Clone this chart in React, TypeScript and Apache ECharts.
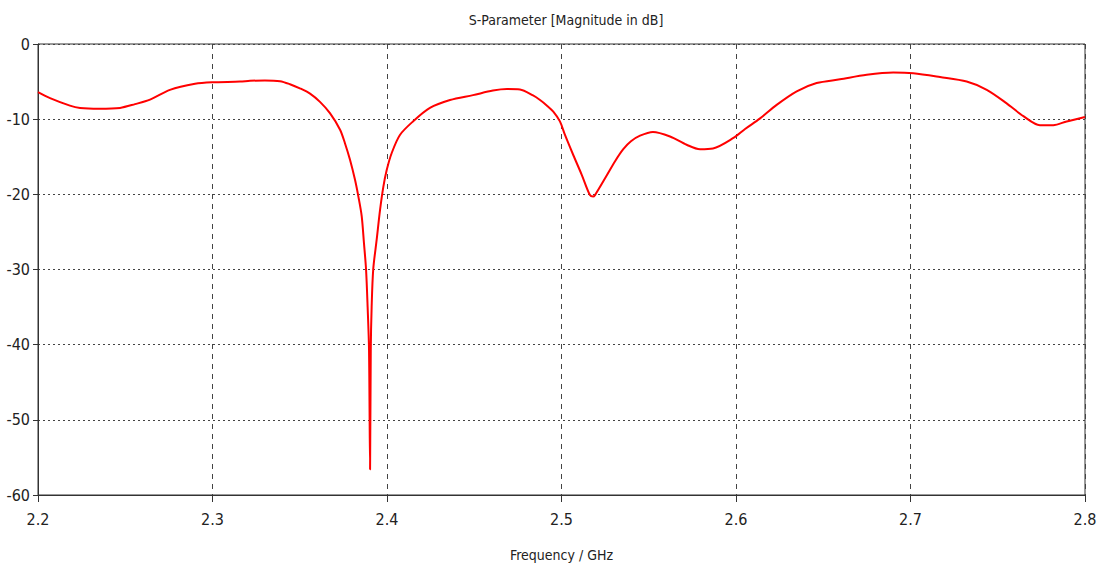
import React, { useEffect, useRef } from "react";
import * as echarts from "echarts";

const titleText = "S-Parameter [Magnitude in dB]";
const xAxisName = "Frequency / GHz";

const freqGHz: number[] = [
  2.2, 2.2069, 2.2183, 2.2241, 2.235, 2.247, 2.2556, 2.2642, 2.2756, 2.29,
  2.2997, 2.3158, 2.3215, 2.33, 2.3387, 2.3444, 2.3501, 2.3559, 2.3616, 2.3673,
  2.3731, 2.3759, 2.3788, 2.3817, 2.3836, 2.3855, 2.3868, 2.388, 2.3889, 2.3897,
  2.3903, 2.3907, 2.3912, 2.3921, 2.3941, 2.396, 2.3979, 2.3998, 2.4027, 2.4074,
  2.4149, 2.4246, 2.4361, 2.4493, 2.4607, 2.4688, 2.4762, 2.4837, 2.4877, 2.4917,
  2.4953, 2.4991, 2.502, 2.5068, 2.5116, 2.5163, 2.5181, 2.5192, 2.5259, 2.5307,
  2.5354, 2.5398, 2.545, 2.5524, 2.5622, 2.5717, 2.5794, 2.5868, 2.5985, 2.6052,
  2.6138, 2.6233, 2.6348, 2.6462, 2.6596, 2.6749, 2.6901, 2.7016, 2.7169, 2.7322,
  2.7437, 2.7551, 2.7647, 2.7742, 2.7818, 2.7895, 2.8,
];

const magnitudeDb: number[] = [
  -6.4, -7.2, -8.2, -8.5, -8.6, -8.5, -8.0, -7.4, -6.1, -5.3,
  -5.1, -5.0, -4.9, -4.85, -4.95, -5.35, -5.9, -6.6, -7.7, -9.2,
  -11.4, -13.2, -15.4, -18.1, -20.3, -22.9, -26.5, -30, -35, -40.7,
  -56.6, -40.7, -35, -30, -26, -22.1, -19.0, -16.8, -14.5, -12.1,
  -10.3, -8.5, -7.45, -6.8, -6.2, -6.0, -6.05, -6.85, -7.45, -8.2,
  -9.0, -10.3, -12.1, -14.8, -17.4, -20.1, -20.3, -20.1, -17.5, -15.6,
  -14.0, -12.95, -12.2, -11.7, -12.3, -13.4, -14.0, -13.9, -12.5, -11.3,
  -9.9, -8.1, -6.3, -5.2, -4.7, -4.1, -3.8, -3.9, -4.4, -5.0,
  -6.1, -7.9, -9.6, -10.8, -10.8, -10.3, -9.7,
];

const FONT = "'DejaVu Sans Condensed', 'Liberation Sans Narrow', 'DejaVu Sans', sans-serif";

export default function App() {
  const ref = useRef<HTMLDivElement>(null);
  useEffect(() => {
    document.body.style.margin = "0";
    if (!ref.current) return;
    const chart = echarts.init(ref.current, undefined, { renderer: "svg" });
    const data = freqGHz.map((f, i) => [f, magnitudeDb[i]]);
    chart.setOption({
      animation: false,
      backgroundColor: "#ffffff",
      title: {
        text: titleText,
        left: 561,
        top: 8,
        textAlign: "center",
        textStyle: { fontFamily: FONT, fontSize: 14, fontWeight: "normal", color: "#222" },
      },
      grid: {
        left: 38,
        right: 16,
        top: 44,
        bottom: 74,
        show: true,
        borderColor: "#333",
        borderWidth: 1,
        backgroundColor: "transparent",
      },
      xAxis: {
        type: "value",
        min: 2.2,
        max: 2.8,
        interval: 0.1,
        name: xAxisName,
        nameLocation: "middle",
        nameGap: 53,
        nameTextStyle: { fontFamily: FONT, fontSize: 14, color: "#222" },
        axisLine: { show: true, onZero: false, lineStyle: { color: "#333", width: 1 } },
        axisTick: { show: true, length: 7, lineStyle: { color: "#333" } },
        axisLabel: {
          fontFamily: FONT,
          fontSize: 16,
          color: "#222",
          margin: 16,
          formatter: (v: number) => v.toFixed(1),
        },
        splitLine: { show: true, lineStyle: { color: "#444", type: [5, 5], width: 1 } },
      },
      yAxis: {
        type: "value",
        min: -60,
        max: 0,
        interval: 10,
        axisLine: { show: true, onZero: false, lineStyle: { color: "#333", width: 1 } },
        axisTick: { show: true, length: 5, lineStyle: { color: "#333" } },
        axisLabel: { fontFamily: FONT, fontSize: 16, color: "#222", margin: 8 },
        splitLine: { show: true, lineStyle: { color: "#444", type: [2, 3], width: 1 } },
      },
      series: [
        {
          type: "line",
          data,
          showSymbol: false,
          smooth: 0.3,
          lineStyle: { color: "#ff0000", width: 2 },
          itemStyle: { color: "#ff0000" },
        },
      ],
    });
    return () => chart.dispose();
  }, []);
  return <div ref={ref} style={{ width: 1101, height: 569 }} />;
}
